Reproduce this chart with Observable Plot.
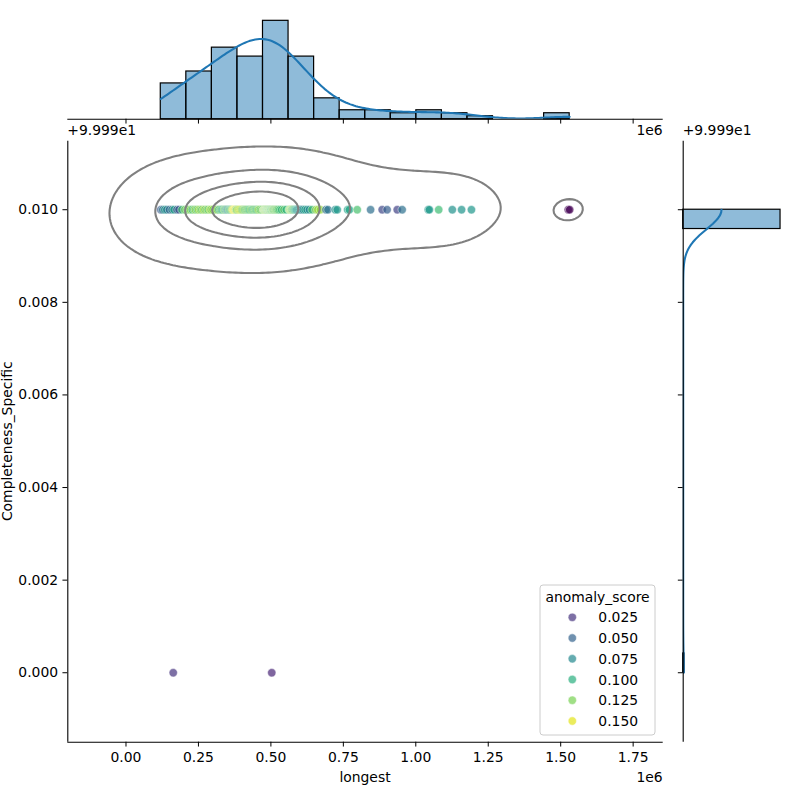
<!DOCTYPE html>
<html><head><meta charset="utf-8">
<script src="https://cdn.jsdelivr.net/npm/d3@7"></script>
<script src="https://cdn.jsdelivr.net/npm/@observablehq/plot@0.6"></script>
<style>
html,body{margin:0;padding:0;background:#fff;}
#chart{position:relative;width:800px;height:800px;overflow:hidden;font-family:"DejaVu Sans";}
#chart svg{position:absolute;left:0;top:0;}
</style></head><body><div id="chart"></div>
<script>
// ---------------- data ----------------
const longest = [
  120000,127000,134000,141000,150000,159000,166000,176000,183000,193000,203000,
  211000,217000,223000,229000,235000,240000,246000,251000,257000,262000,268000,273000,279000,284000,290000,294000,
  300000,308000,315000,321000,326000,330000,334000,338000,341000,344000,347000,350000,353000,356000,359000,362000,365000,368000,371000,373000,376000,378000,381000,383000,
  387000,391000,395000,399000,403000,407000,411000,415000,419000,423000,427000,431000,435000,439000,443000,447000,451000,455000,459000,464000,469000,
  474000,476000,477000,479000,480000,482000,483000,485000,486000,488000,489000,491000,492000,494000,495000,497000,499000,500000,502000,504000,506000,508000,510000,513000,516000,519000,522000,526000,531000,537000,545000,553000,
  563000,565000,567000,569000,571000,573000,575000,578000,581000,584000,587000,590000,594000,598000,602000,607000,612000,618000,625000,633000,642000,
  655000,662000,671000,690000,697000,722000,729000,
  765000,771000,798000,
  844000,884000,901000,
  936000,953000,
  1043000,1047000,1079000,
  1126000,1158000,
  1192000,
  1526000,1531000,
  163000,503000
];
const completeness = [
  100.0,100.0,100.0,100.0,100.0,100.0,100.0,100.0,100.0,100.0,100.0,
  100.0,100.0,100.0,100.0,100.0,100.0,100.0,100.0,100.0,100.0,100.0,100.0,100.0,100.0,100.0,100.0,
  100.0,100.0,100.0,100.0,100.0,100.0,100.0,100.0,100.0,100.0,100.0,100.0,100.0,100.0,100.0,100.0,100.0,100.0,100.0,100.0,100.0,100.0,100.0,100.0,
  100.0,100.0,100.0,100.0,100.0,100.0,100.0,100.0,100.0,100.0,100.0,100.0,100.0,100.0,100.0,100.0,100.0,100.0,100.0,100.0,100.0,
  100.0,100.0,100.0,100.0,100.0,100.0,100.0,100.0,100.0,100.0,100.0,100.0,100.0,100.0,100.0,100.0,100.0,100.0,100.0,100.0,100.0,100.0,100.0,100.0,100.0,100.0,100.0,100.0,100.0,100.0,100.0,100.0,
  100.0,100.0,100.0,100.0,100.0,100.0,100.0,100.0,100.0,100.0,100.0,100.0,100.0,100.0,100.0,100.0,100.0,100.0,100.0,100.0,100.0,
  100.0,100.0,100.0,100.0,100.0,100.0,100.0,
  100.0,100.0,100.0,
  100.0,100.0,100.0,
  100.0,100.0,
  100.0,100.0,100.0,
  100.0,100.0,
  100.0,
  100.0,100.0,
  99.99,99.99
];
const anomalyScore = [
  0.045,0.062,0.085,0.070,0.052,0.066,0.090,0.048,0.040,0.108,0.122,
  0.125,0.118,0.130,0.105,0.122,0.128,0.112,0.135,0.126,0.118,0.138,0.120,0.128,0.115,0.140,0.124,
  0.130,0.110,0.135,0.098,0.120,0.105,0.092,0.128,0.112,0.080,0.118,0.072,0.085,0.125,0.088,0.110,0.132,0.142,0.150,0.157,0.148,0.138,0.128,0.120,
  0.142,0.135,0.145,0.128,0.118,0.132,0.110,0.125,0.115,0.120,0.102,0.128,0.112,0.108,0.122,0.118,0.105,0.126,0.130,0.116,0.124,
  0.125,0.118,0.132,0.128,0.122,0.136,0.126,0.118,0.130,0.124,0.112,0.128,0.120,0.134,0.115,0.122,0.128,0.118,0.108,0.125,0.119,0.130,0.112,0.122,0.126,0.117,0.121,0.114,0.110,0.105,0.118,0.102,
  0.120,0.128,0.132,0.125,0.135,0.118,0.110,0.122,0.098,0.104,0.092,0.085,0.082,0.078,0.088,0.070,0.076,0.090,0.080,0.074,0.110,
  0.128,0.135,0.132,0.058,0.062,0.080,0.085,
  0.090,0.094,0.112,
  0.058,0.035,0.048,
  0.032,0.060,
  0.082,0.086,0.108,
  0.080,0.082,
  0.084,
  0.004,0.002,
  0.025,0.018
];
const OFFSET_Y = 99.99;              // shown as "+9.999e1"
const xTicks = [0, 250000, 500000, 750000, 1000000, 1250000, 1500000, 1750000];
const yTicks = [0, 0.002, 0.004, 0.006, 0.008, 0.010];
const legendValues = [0.025, 0.050, 0.075, 0.100, 0.125, 0.150];
const isoProportions = [0.05, 0.2875, 0.525, 0.7625, 1.0];
const xBinCount = 16, yBinCount = 24;

// ---------------- layout ----------------
const L = 67.3, R = 662.7, T = 140.7, B = 741.7;
const xDomain = [-200800, 1853700];
const yDomain = [-0.0015, 0.01148];
const font = {fontFamily: "DejaVu Sans", fontSize: "13.9px", background: "transparent", color: "black", overflow: "visible"};

const points = longest.map((x, i) => ({x, y: completeness[i] - OFFSET_Y, s: anomalyScore[i]}));
const n = points.length;
const X = points.map(p => p.x / 1e6), Y = points.map(p => p.y);

// covariance
const mx = d3.mean(X), my = d3.mean(Y);
let sxx = 0, syy = 0, sxy = 0;
for (let k = 0; k < n; k++) { const dx = X[k]-mx, dy = Y[k]-my; sxx += dx*dx; syy += dy*dy; sxy += dx*dy; }
sxx /= n-1; syy /= n-1; sxy /= n-1;

// 2D KDE (scott)
const f2 = Math.pow(n, -1/3);
const cxx = sxx*f2, cyy = syy*f2, cxy = sxy*f2;
const det = cxx*cyy - cxy*cxy;
const ixx = cyy/det, iyy = cxx/det, ixy = -cxy/det;
const bwX = Math.sqrt(cxx), bwY = Math.sqrt(cyy);
const G = 200;
const gx0 = d3.min(X) - 3*bwX, gx1 = d3.max(X) + 3*bwX;
const gy0 = d3.min(Y) - 3*bwY, gy1 = d3.max(Y) + 3*bwY;
const gsx = (gx1-gx0)/(G-1), gsy = (gy1-gy0)/(G-1);
const dens = new Float64Array(G*G);
for (let j = 0; j < G; j++) {
  const gy = gy0 + j*gsy;
  for (let i = 0; i < G; i++) {
    const gx = gx0 + i*gsx; let s = 0;
    for (let k = 0; k < n; k++) { const dx = gx-X[k], dy = gy-Y[k]; s += Math.exp(-0.5*(ixx*dx*dx + 2*ixy*dx*dy + iyy*dy*dy)); }
    dens[j*G+i] = s;
  }
}
const sortedD = Array.from(dens).sort((a,b) => b-a);
const totalD = d3.sum(sortedD);
const cum = []; { let acc = 0; for (const v of sortedD) { acc += v; cum.push(acc/totalD); } }
const levels = isoProportions.filter(q => q < 1).map(q => sortedD[Math.min(d3.bisectLeft(cum, 1-q), sortedD.length-1)]);
const contours = d3.contours().size([G, G]).thresholds(levels)(dens);
const contourRows = []; let ringId = 0;
for (const c of contours) for (const poly of c.coordinates) for (const r of poly) {
  for (const [cx, cy] of r) contourRows.push({x: (gx0 + (cx-0.5)*gsx)*1e6, y: gy0 + (cy-0.5)*gsy, ring: ringId});
  ringId++;
}

// marginal histograms + KDE
const xMin = d3.min(X), xMax = d3.max(X), binWX = (xMax-xMin)/xBinCount;
const xBins = d3.range(xBinCount).map(i => ({x1: (xMin+i*binWX)*1e6, x2: (xMin+(i+1)*binWX)*1e6, count: 0}));
for (const v of X) { let b = Math.floor((v-xMin)/binWX); b = Math.max(0, Math.min(xBinCount-1, b)); xBins[b].count++; }
const yMin = d3.min(Y), yMax = d3.max(Y), binWY = (yMax-yMin)/yBinCount;
const yBins = d3.range(yBinCount).map(i => ({y1: yMin+i*binWY, y2: yMin+(i+1)*binWY, count: 0}));
for (const v of Y) { let b = Math.floor((v-yMin)/binWY + 1e-9); b = Math.max(0, Math.min(yBinCount-1, b)); yBins[b].count++; }

function kde1(vals, bw, lo, hi, scale) {
  return d3.range(200).map(i => {
    const v = lo + i*(hi-lo)/199; let s = 0;
    for (const d of vals) { const z = (v-d)/bw; s += Math.exp(-0.5*z*z); }
    return {v, d: s/(vals.length*bw*Math.sqrt(2*Math.PI))*scale};
  });
}
const bw1x = Math.sqrt(sxx)*Math.pow(n, -0.2);
const kdeTop = kde1(X, bw1x, xMin, xMax, n*binWX).map(o => ({x: o.v*1e6, y: o.d}));
const bw1y = Math.sqrt(syy)*Math.pow(n, -0.2);
const kdeRight = kde1(Y, bw1y, yMin, yMax, n*binWY).map(o => ({y: o.v, x: o.d}));

const scoreDomain = d3.extent(anomalyScore);
const colorOpts = {type: "linear", scheme: "viridis", domain: scoreDomain};
const chart = document.getElementById("chart");

// ---------------- main joint plot ----------------
const main = Plot.plot({
  width: 800, height: 800,
  marginLeft: L, marginRight: 800-R, marginTop: T, marginBottom: 800-B,
  style: font,
  x: {domain: xDomain, ticks: xTicks, tickSize: 4.86, tickPadding: 4.86, tickFormat: d => (d/1e6).toFixed(2), label: null},
  y: {domain: yDomain, ticks: yTicks, tickSize: 4.86, tickPadding: 4.86, tickFormat: d => d.toFixed(3), label: null},
  color: colorOpts,
  marks: [
    Plot.dot(points, {x: "x", y: "y", fill: "s", r: 4.17, stroke: "white", strokeWidth: 0.67, fillOpacity: 0.7, strokeOpacity: 0.7}),
    Plot.line(contourRows, {x: "x", y: "y", z: "ring", stroke: "#808080", strokeWidth: 2.08}),
    Plot.ruleX([xDomain[0]], {stroke: "black", strokeWidth: 1.1}),
    Plot.ruleY([yDomain[0]], {stroke: "black", strokeWidth: 1.1})
  ]
});
chart.appendChild(main);

// ---------------- top marginal ----------------
const topMax = d3.max(xBins, d => d.count)*1.05;
const topPlot = Plot.plot({
  width: 800, height: 800,
  marginLeft: L, marginRight: 800-R, marginTop: 15.4, marginBottom: 800-118.7,
  style: font,
  x: {domain: xDomain, ticks: xTicks, tickSize: 4.86, tickFormat: () => "", label: null},
  y: {domain: [0, topMax], axis: null},
  marks: [
    Plot.rect(xBins, {x1: "x1", x2: "x2", y1: 0, y2: "count", fill: "#1f77b4", fillOpacity: 0.5, stroke: "black", strokeWidth: 1.2}),
    Plot.line(kdeTop, {x: "x", y: "y", stroke: "#1f77b4", strokeWidth: 2.08, clip: true}),
    Plot.ruleY([0], {stroke: "black", strokeWidth: 1.1})
  ]
});
chart.appendChild(topPlot);

// ---------------- right marginal ----------------
const rightMax = d3.max(yBins, d => d.count)*1.05;
const rightPlot = Plot.plot({
  width: 800, height: 800,
  marginLeft: 682.7, marginRight: 800-784.9, marginTop: T, marginBottom: 800-B,
  style: font,
  x: {domain: [0, rightMax], axis: null},
  y: {domain: yDomain, ticks: yTicks, tickSize: 4.86, tickFormat: () => "", label: null},
  marks: [
    Plot.rect(yBins.filter(b => b.count > 0), {y1: "y1", y2: "y2", x1: 0, x2: "count", fill: "#1f77b4", fillOpacity: 0.5, stroke: "black", strokeWidth: 1.2}),
    Plot.line(kdeRight, {x: "x", y: "y", stroke: "#1f77b4", strokeWidth: 2.08, clip: true}),
    Plot.ruleX([0], {stroke: "black", strokeWidth: 1.1})
  ]
});
chart.appendChild(rightPlot);

// ---------------- texts + legend overlay ----------------
const color = Plot.scale({color: colorOpts});
const ov = d3.select(chart).append("svg").attr("width", 800).attr("height", 800)
  .style("font-family", "DejaVu Sans").style("font-size", "13.9px");
ov.append("text").attr("x", L).attr("y", 135).text("+9.999e1");
ov.append("text").attr("x", R).attr("y", 135).attr("text-anchor", "end").text("1e6");
ov.append("text").attr("x", 682.7).attr("y", 135).text("+9.999e1");
ov.append("text").attr("x", R).attr("y", 782).attr("text-anchor", "end").text("1e6");
ov.append("text").attr("x", (L+R)/2).attr("y", 782).attr("text-anchor", "middle").text("longest");
ov.append("text").attr("transform", `translate(12,${(T+B)/2}) rotate(-90)`).attr("text-anchor", "middle").text("Completeness_Specific");

const lg = ov.append("g");
lg.append("rect").attr("x", 540).attr("y", 585).attr("width", 115).attr("height", 150).attr("rx", 3)
  .attr("fill", "white").attr("fill-opacity", 0.8).attr("stroke", "#cccccc").attr("stroke-width", 1);
lg.append("text").attr("x", 597.5).attr("y", 602).attr("text-anchor", "middle").text("anomaly_score");
legendValues.forEach((v, i) => {
  const cy = 617.3 + i*20.74;
  lg.append("circle").attr("cx", 572.3).attr("cy", cy).attr("r", 4.17).attr("fill", color.apply(v)).attr("fill-opacity", 0.7)
    .attr("stroke", "white").attr("stroke-width", 0.67).attr("stroke-opacity", 0.7);
  lg.append("text").attr("x", 598.3).attr("y", cy + 5).text(v.toFixed(3));
});
</script></body></html>
